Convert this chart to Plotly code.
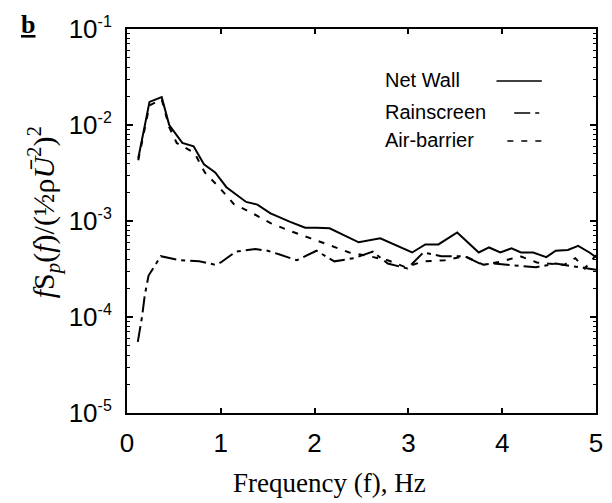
import plotly.graph_objects as go

# ---- data ----
freq_net = [0.12, 0.24, 0.37, 0.45, 0.59, 0.71, 0.82, 0.94, 1.06, 1.27, 1.39, 1.53, 1.74, 1.90, 2.02,
            2.16, 2.47, 2.70, 3.04, 3.18, 3.32, 3.52, 3.75, 3.86, 3.98, 4.10, 4.20, 4.33, 4.47, 4.57,
            4.70, 4.81, 4.93, 5.00]
net_wall = [4.5e-3, 1.74e-2, 1.95e-2, 1.0e-2, 6.5e-3, 6.0e-3, 3.9e-3, 3.2e-3, 2.25e-3, 1.58e-3, 1.48e-3,
            1.2e-3, 9.8e-4, 8.5e-4, 8.5e-4, 8.4e-4, 6.0e-4, 6.6e-4, 4.7e-4, 5.7e-4, 5.7e-4, 7.6e-4,
            4.7e-4, 5.3e-4, 4.7e-4, 5.2e-4, 4.7e-4, 4.7e-4, 4.2e-4, 4.9e-4, 5.0e-4, 5.5e-4, 4.7e-4, 4.2e-4]

freq_air = [0.12, 0.24, 0.37, 0.45, 0.53, 0.72, 0.83, 0.99, 1.14, 1.34, 1.53, 1.75, 1.96, 2.16, 2.37,
            2.58, 2.78, 2.97, 3.16, 3.39, 3.60, 3.80, 4.00, 4.19, 4.37, 4.49, 4.66, 4.78, 4.88, 5.00]
air_barrier = [4.3e-3, 1.6e-2, 1.85e-2, 9.5e-3, 6.5e-3, 5.1e-3, 3.2e-3, 2.2e-3, 1.5e-3, 1.2e-3, 9.5e-4,
               7.8e-4, 6.6e-4, 5.6e-4, 4.7e-4, 4.3e-4, 3.9e-4, 3.3e-4, 3.8e-4, 3.9e-4, 4.3e-4, 3.5e-4,
               3.8e-4, 4.3e-4, 3.7e-4, 3.6e-4, 3.5e-4, 4.1e-4, 3.2e-4, 4.4e-4]

freq_rain = [0.115, 0.16, 0.19, 0.23, 0.36, 0.56, 0.77, 0.94, 1.00, 1.16, 1.37, 1.50, 1.62, 1.81, 2.02,
             2.21, 2.42, 2.62, 2.78, 2.99, 3.16, 3.35, 3.60, 3.79, 3.91, 4.05, 4.36, 4.57, 4.88, 5.00]
rainscreen = [5.5e-5, 1.0e-4, 1.7e-4, 2.7e-4, 4.3e-4, 3.9e-4, 3.8e-4, 3.5e-4, 3.7e-4, 4.8e-4, 5.1e-4,
              4.9e-4, 4.5e-4, 3.9e-4, 4.9e-4, 3.8e-4, 4.1e-4, 4.8e-4, 3.6e-4, 3.2e-4, 4.7e-4, 4.3e-4,
              4.3e-4, 3.5e-4, 3.6e-4, 3.5e-4, 3.3e-4, 3.6e-4, 3.2e-4, 3.1e-4]

series_names = ["Net Wall", "Rainscreen", "Air-barrier"]
x_ticks = [0, 1, 2, 3, 4, 5]
y_tickvals = [1e-5, 1e-4, 1e-3, 1e-2, 1e-1]
y_exps = ["-5", "-4", "-3", "-2", "-1"]

# ---- layout geometry (pixels) ----
W, H = 612, 503
L, R, T, B = 127, 603, 29, 413
pw, ph = R - L, B - T


def px(x):
    return (x - L) / pw


def py(y):
    return (B - y) / ph


dash_rain = "16px,5px,4px,5px"
dash_air = "6px,8px"

fig = go.Figure()
fig.add_trace(go.Scatter(x=freq_net, y=net_wall, mode="lines", name=series_names[0],
                         line=dict(color="black", width=2)))
fig.add_trace(go.Scatter(x=freq_rain, y=rainscreen, mode="lines", name=series_names[1],
                         line=dict(color="black", width=2, dash=dash_rain)))
fig.add_trace(go.Scatter(x=freq_air, y=air_barrier, mode="lines", name=series_names[2],
                         line=dict(color="black", width=2, dash=dash_air)))

minor_vals = [m * 10 ** e for e in range(-5, -1) for m in range(2, 10)]

tick_font = dict(family="Liberation Sans, Arial, sans-serif", size=26, color="black")

fig.update_layout(
    width=W, height=H,
    margin=dict(l=L, r=W - R, t=T, b=H - B),
    paper_bgcolor="white", plot_bgcolor="white",
    showlegend=False,
    xaxis=dict(range=[0, 5], tickvals=x_ticks, ticktext=[str(v) for v in x_ticks],
               ticks="inside", ticklen=5, tickwidth=1.5, tickcolor="black",
               showline=True, linecolor="black", linewidth=2, mirror="allticks",
               showgrid=False, zeroline=False, tickfont=tick_font, ticklabelstandoff=6),
    yaxis=dict(type="log", range=[-5, -1], tickvals=y_tickvals,
               ticktext=["10<sup><span style='font-size:16px'>%s</span></sup>" % e for e in y_exps],
               ticks="inside", ticklen=6, tickwidth=1.5, tickcolor="black",
               minor=dict(tickvals=minor_vals, ticks="inside", ticklen=3, tickwidth=1,
                          tickcolor="black", showgrid=False),
               showline=True, linecolor="black", linewidth=2, mirror="allticks",
               showgrid=False, zeroline=False, tickfont=tick_font, ticklabelstandoff=8),
)

serif = "Liberation Serif, Times New Roman, serif"
sans = "Liberation Sans, Arial, sans-serif"

# panel label
fig.add_annotation(x=px(27), y=py(25), xref="paper", yref="paper", showarrow=False,
                   xanchor="center", yanchor="middle",
                   text="<b><u>b</u></b>", font=dict(family=serif, size=26, color="black"))
# x title
fig.add_annotation(x=px(333), y=py(483), xref="paper", yref="paper", showarrow=False,
                   xanchor="center", yanchor="middle",
                   text="Frequency (f), Hz", font=dict(family=serif, size=27, color="black"))
# y title
fig.add_annotation(x=px(42), y=py(212), xref="paper", yref="paper", showarrow=False,
                   xanchor="center", yanchor="middle", textangle=-90,
                   text="<i>f</i>S<sub><i>p</i></sub>(<i>f</i>)/(½ρ<i>Ū</i><sup>2</sup>)<sup>2</sup>",
                   font=dict(family=serif, size=30, color="black"))

# legend (text left, line sample right)
leg_rows = [(series_names[0], 80, None, 502), (series_names[1], 112, dash_rain, 520),
            (series_names[2], 140, dash_air, 513)]
for name, yy, dsh, x0 in leg_rows:
    fig.add_annotation(x=px(387), y=py(yy), xref="paper", yref="paper", showarrow=False,
                       xanchor="left", yanchor="middle", text=name,
                       font=dict(family=sans, size=20, color="black"))
    fig.add_shape(type="line", xref="paper", yref="paper", x0=px(x0), x1=px(548),
                  y0=py(yy + 1), y1=py(yy + 1),
                  line=dict(color="black", width=1.5, dash=dsh if dsh else "solid"))

fig.write_html("out.html")
